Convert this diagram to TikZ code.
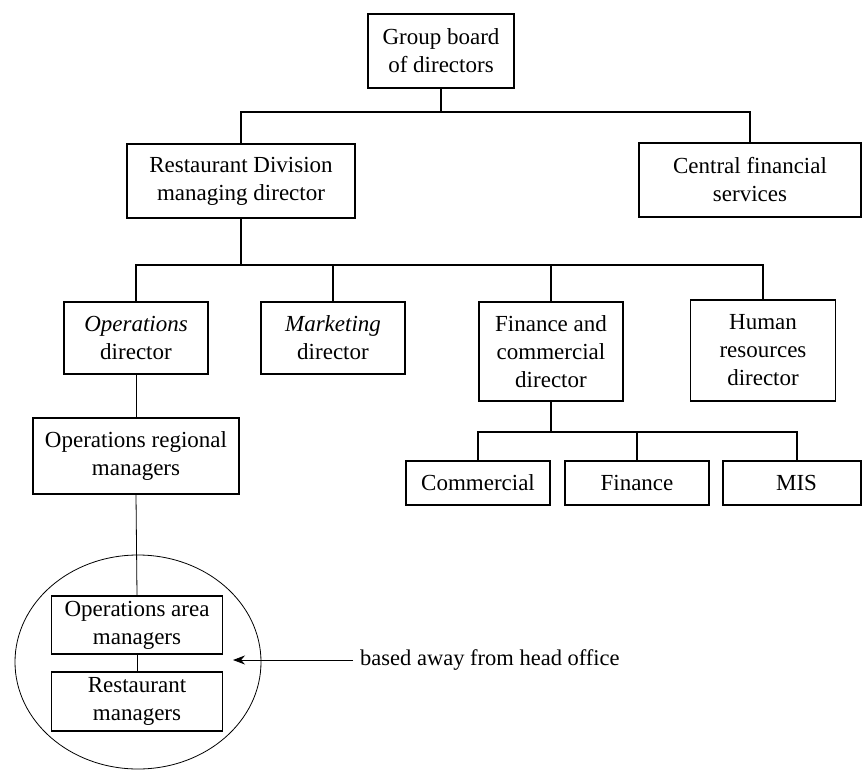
\documentclass[tikz,border=0pt]{standalone}
\usepackage{fontspec}
\setmainfont{Liberation Serif}
\usetikzlibrary{shapes.geometric,arrows.meta}
\begin{document}
\begin{tikzpicture}[x=1pt,y=-1pt,
  box/.style={draw,line width=1.2pt,align=center,inner sep=0pt,
    font=\fontsize{23}{28}\selectfont},
  link/.style={line width=1.2pt},
  thin/.style={line width=0.8pt}]
\useasboundingbox (0,0) rectangle (862,771);
% boxes
\node[box,minimum width=146,minimum height=74] (gb) at (441,51) {Group board\\of directors};
\node[box,minimum width=228,minimum height=74] (rd) at (241,181) {Restaurant Division\\managing director};
\node[box,minimum width=222,minimum height=74] (cf) at (750,180) {Central financial\\services};
\node[box,minimum width=144,minimum height=72] (od) at (136,338) {\textit{Operations}\\director};
\node[box,minimum width=144,minimum height=72] (md) at (333,338) {\textit{Marketing}\\director};
\node[box,minimum width=144,minimum height=99] (fc) at (551,351.5) {Finance and\\commercial\\director};
\node[box,minimum width=145,minimum height=101] (hr) at (763,350.5) {Human\\resources\\director};
\node[box,minimum width=206,minimum height=76] (orm) at (136,456) {Operations regional\\managers};
\node[box,minimum width=144,minimum height=44] (com) at (478,483) {Commercial};
\node[box,minimum width=144,minimum height=44] (fin) at (637,483) {Finance};
\node[box,minimum width=138,minimum height=44] (mis) at (792,483) {\hspace{9pt}MIS};
\node[box,minimum width=171,minimum height=58] (oam) at (137,625) {Operations area\\managers};
\node[box,minimum width=171,minimum height=59] (rm) at (137,701.5) {Restaurant\\managers};
\node[draw,thin,ellipse,minimum width=246,minimum height=214,inner sep=0pt] (ell) at (138,662) {};
% bus coordinates
\coordinate (b1) at (441,112);
\coordinate (b2) at (241,265);
\coordinate (b3) at (551,432);
% connectors
\draw[link] (gb.south) -- (b1);
\draw[link] (rd.north) |- (b1) -| (cf.north);
\draw[link] (rd.south) -- (b2);
\draw[link] (od.north) |- (b2) -| (hr.north);
\draw[link] (md.north) -- (md.north |- b2);
\draw[link] (fc.north) -- (fc.north |- b2);
\draw[link] (fc.south) -- (b3);
\draw[link] (com.north) |- (b3) -| (797,461);
\draw[link] (fin.north) -- (fin.north |- b3);
\draw[thin] (od.south) -- (orm.north);
\draw[thin] (orm.south) -- (oam.north);
\draw[thin] (oam.south) -- (rm.north);
% annotation
\node[anchor=west,inner sep=0pt,font=\fontsize{22.5}{27}\selectfont] (note) at (360,660) {based away from head office};
\coordinate (tip) at (233,660);
\draw[thin,-{Stealth[length=12pt,width=9pt]}] ([xshift=-7pt]note.west) -- (tip);
\end{tikzpicture}
\end{document}
